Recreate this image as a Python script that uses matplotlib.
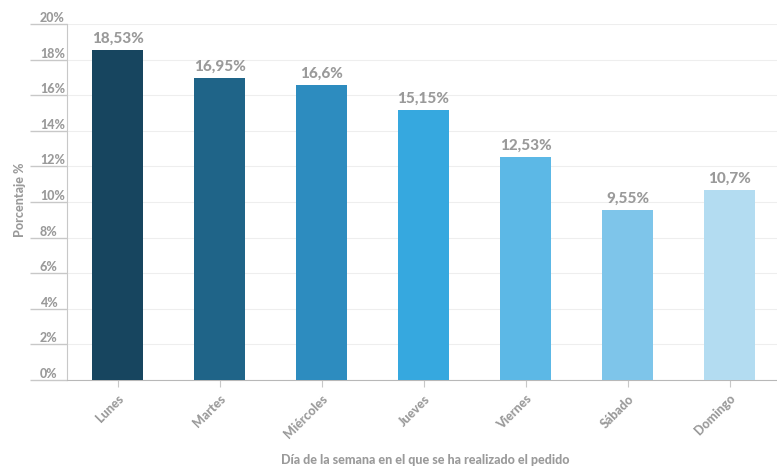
import matplotlib
matplotlib.use("Agg")
import matplotlib.pyplot as plt
import matplotlib.transforms as mtransforms

dias = ["Lunes", "Martes", "Miércoles", "Jueves", "Viernes", "Sábado", "Domingo"]
porcentajes = [18.53, 16.95, 16.6, 15.15, 12.53, 9.55, 10.7]
etiquetas = ["18,53%", "16,95%", "16,6%", "15,15%", "12,53%", "9,55%", "10,7%"]
colores = ["#17455f", "#1f6488", "#2d8cbf", "#36a8df", "#5cb8e6", "#7ec5ea", "#b3dcf1"]
yticks = [0, 2, 4, 6, 8, 10, 12, 14, 16, 18, 20]

plt.rcParams['font.family'] = ['Lato', 'DejaVu Sans']
gris = "#9a9a9a"
peso = 900

fig = plt.figure(figsize=(7.77, 4.71), dpi=100)
ax = fig.add_axes([66.5 / 777, 91 / 471, 714 / 777, 356 / 471])

x = list(range(len(dias)))
ax.bar(x, porcentajes, width=0.5, color=colores, zorder=3)

for xi, v, t in zip(x, porcentajes, etiquetas):
    ax.annotate(t, (xi, v), xytext=(0, 3), textcoords="offset points",
                ha="center", va="bottom", fontsize=11, fontweight=peso, color=gris)

ax.set_xlim(-0.5, 6.5)
ax.set_ylim(0, 20)
ax.set_yticks(yticks)
ax.set_yticklabels([])
ax.tick_params(axis="y", length=27, color="#c8c8c8", width=1)
ax.grid(axis="y", color="#eeeeee", linewidth=0.8, zorder=0)

# etiquetas del eje y encima de la marca
trans = mtransforms.blended_transform_factory(ax.transAxes, ax.transData)
for y in yticks:
    ax.text(-26.5 / 714, y, f"{y}%", transform=trans, ha="left", va="bottom",
            fontsize=9, fontweight=peso, color=gris)

ax.set_xticks(x)
ax.set_xticklabels(dias, rotation=45, ha="right", rotation_mode="anchor",
                   fontsize=9, fontweight=peso, color=gris)
ax.tick_params(axis="x", length=5, color="#c8c8c8", pad=4)

for s in ["top", "right"]:
    ax.spines[s].set_visible(False)
ax.spines["left"].set_color("#c8c8c8")
ax.spines["bottom"].set_color("#b8b8b8")

fig.text(20 / 777, 1 - 200 / 471, "Porcentaje %", rotation=90, ha="center", va="center",
         fontsize=9, fontweight=peso, color=gris)
fig.text(425 / 777, 1 - 460 / 471, "Día de la semana en el que se ha realizado el pedido",
         ha="center", va="center", fontsize=9, fontweight=peso, color=gris)

fig.savefig("out.png", dpi=100)
